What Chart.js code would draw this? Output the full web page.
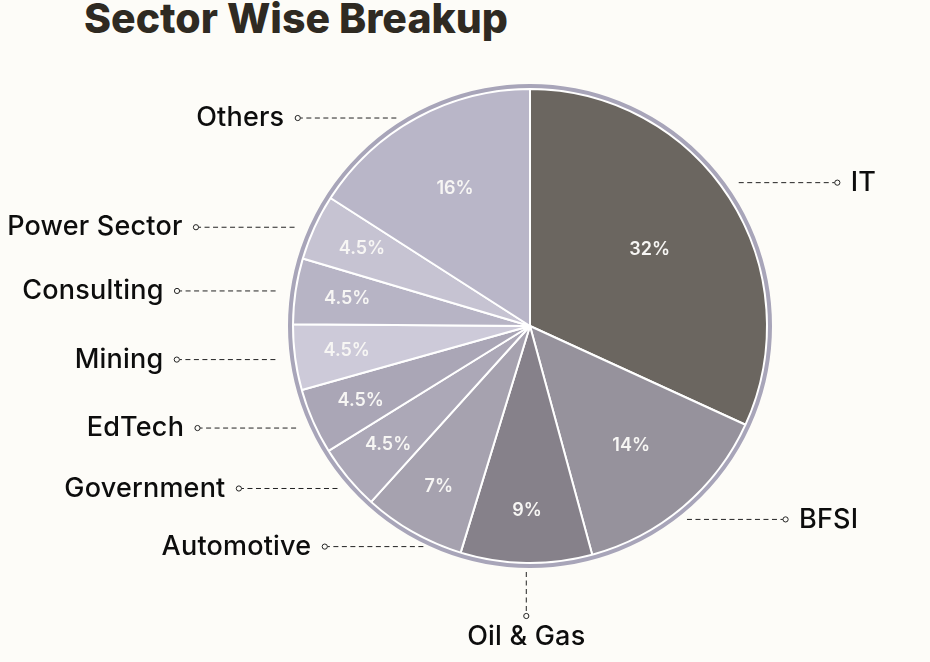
<!DOCTYPE html>
<html>
<head>
<meta charset="utf-8">
<script src="https://cdn.jsdelivr.net/npm/chart.js@4.4.1/dist/chart.umd.min.js"></script>
<style>
    html, body { margin: 0; padding: 0; background: #fdfcf8; }
    body { width: 930px; height: 662px; position: relative; overflow: hidden; }
    h1 {
        position: absolute; left: 84px; top: -7px; margin: 0;
        font: 800 41px Inter, "Open Sans", sans-serif; color: #2f2a22; letter-spacing: 0px;
    }
    .wrap { position: absolute; left: 0; top: 0; width: 930px; height: 662px; }
</style>
</head>
<body>
<h1>Sector Wise Breakup</h1>
<div class="wrap"><canvas id="sectorChart"></canvas></div>
<script>
// --- Data ---
const sectors = ['IT', 'BFSI', 'Oil & Gas', 'Automotive', 'Government', 'EdTech', 'Mining', 'Consulting', 'Power Sector', 'Others'];
const shares = [32, 14, 9, 7, 4.5, 4.5, 4.5, 4.5, 4.5, 16];
const sliceColors = ['#6b6660', '#96929c', '#86818a', '#a6a2af', '#aca8b7', '#aaa6b6', '#cdcad9', '#b7b4c5', '#c6c3d2', '#b9b6c8'];

const bg = '#fdfcf8';

// outer grey ring around the pie
const ringPlugin = {
    id: 'ring',
    afterDatasetsDraw(chart) {
        const arc = chart.getDatasetMeta(0).data[0];
        if (!arc) return;
        const ctx = chart.ctx;
        ctx.save();
        ctx.beginPath();
        ctx.arc(arc.x, arc.y, arc.outerRadius + 3, 0, Math.PI * 2);
        ctx.strokeStyle = '#a8a5b9';
        ctx.lineWidth = 4;
        ctx.stroke();
        ctx.restore();
    }
};

// percentage text inside the slices
const sliceLabelPlugin = {
    id: 'sliceLabels',
    afterDatasetsDraw(chart) {
        const ctx = chart.ctx;
        const meta = chart.getDatasetMeta(0);
        ctx.save();
        ctx.font = '600 18px Inter, sans-serif';
        ctx.fillStyle = '#f7f6f4';
        ctx.textAlign = 'center';
        ctx.textBaseline = 'middle';
        meta.data.forEach((arc, i) => {
            const v = shares[i];
            const k = v >= 30 ? 0.6 : (v >= 14 ? 0.66 : 0.78);
            const mid = (arc.startAngle + arc.endAngle) / 2;
            const r = arc.outerRadius * k;
            ctx.fillText(v + '%', arc.x + Math.cos(mid) * r, arc.y + Math.sin(mid) * r);
        });
        ctx.restore();
    }
};

// dashed leader lines with small circle and category name
const leaderPlugin = {
    id: 'leaders',
    afterDraw(chart) {
        const ctx = chart.ctx;
        const meta = chart.getDatasetMeta(0);
        ctx.save();
        ctx.font = '500 27px Inter, sans-serif';
        if ('letterSpacing' in ctx) ctx.letterSpacing = '0.2px';
        ctx.fillStyle = '#0d0d0d';
        ctx.strokeStyle = '#222222';
        ctx.lineWidth = 1;
        meta.data.forEach((arc, i) => {
            const R = arc.outerRadius;
            const cx = arc.x, cy = arc.y;
            const mid = (arc.startAngle + arc.endAngle) / 2;
            const c = Math.cos(mid), s = Math.sin(mid);

            ctx.setLineDash([5, 3.5]);
            if (Math.abs(c) < 0.25 && s > 0) {
                // bottom: vertical leader
                const x = cx + R * c;
                const y0 = cy + R + 9, y1 = y0 + 41;
                ctx.beginPath();
                ctx.moveTo(x, y0);
                ctx.lineTo(x, y1);
                ctx.stroke();
                ctx.setLineDash([]);
                ctx.beginPath();
                ctx.arc(x, y1 + 3, 2.6, 0, Math.PI * 2);
                ctx.fillStyle = bg;
                ctx.fill();
                ctx.stroke();
                ctx.fillStyle = '#0d0d0d';
                ctx.textAlign = 'center';
                ctx.textBaseline = 'middle';
                ctx.fillText(sectors[i], x, y1 + 24);
                return;
            }
            // upper-right labels sit a little higher, lower ones a little lower
            const f = s > 0 ? 1.07 : (c > 0 ? 1.12 : 1.0);
            const y = cy + R * s * f;
            const dy = Math.min(Math.abs(y - cy), R);
            const half = Math.sqrt(R * R - dy * dy);
            const dir = c > 0 ? 1 : -1;
            const xa = cx + dir * (half + 20);
            const xb = xa + dir * 96;
            ctx.beginPath();
            ctx.moveTo(xa, y);
            ctx.lineTo(xb, y);
            ctx.stroke();
            ctx.setLineDash([]);
            ctx.beginPath();
            ctx.arc(xb + dir * 2.6, y, 2.6, 0, Math.PI * 2);
            ctx.fillStyle = bg;
            ctx.fill();
            ctx.stroke();
            ctx.fillStyle = '#0d0d0d';
            ctx.textAlign = dir > 0 ? 'left' : 'right';
            ctx.textBaseline = 'middle';
            ctx.fillText(sectors[i], xb + dir * 16, y);
        });
        ctx.restore();
    }
};

document.addEventListener('DOMContentLoaded', function() {
    const el = document.getElementById('sectorChart');
    new Chart(el.getContext('2d'), {
        type: 'pie',
        data: {
            labels: sectors,
            datasets: [{
                data: shares,
                backgroundColor: sliceColors,
                borderColor: '#ffffff',
                borderWidth: 2
            }]
        },
        options: {
            responsive: true,
            maintainAspectRatio: false,
            animation: false,
            layout: {
                padding: { top: 88, bottom: 98, left: 292, right: 162 }
            },
            plugins: {
                legend: { display: false },
                tooltip: { enabled: false }
            }
        },
        plugins: [ringPlugin, sliceLabelPlugin, leaderPlugin]
    });
});
</script>
</body>
</html>
